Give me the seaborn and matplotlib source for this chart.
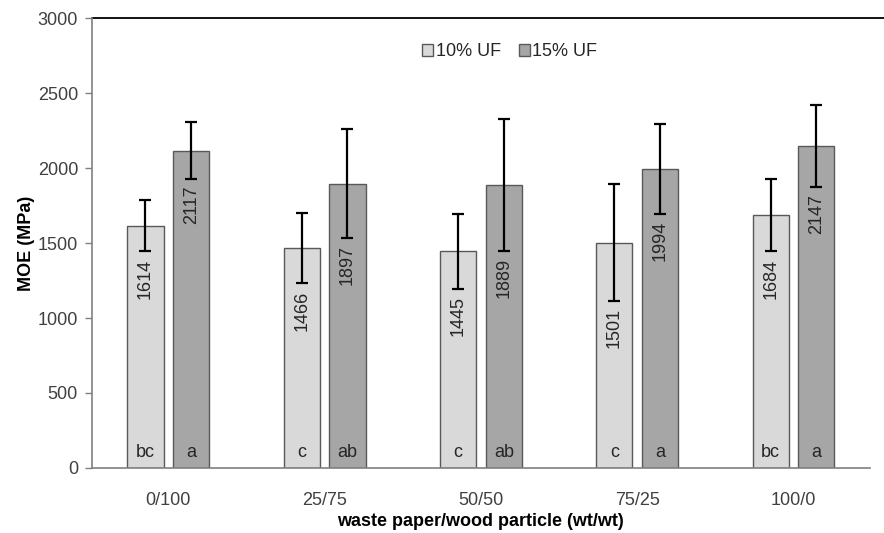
import matplotlib
matplotlib.use("Agg")
import matplotlib.pyplot as plt
import numpy as np
import pandas as pd
import seaborn as sns

# data
ratios = ["0/100", "25/75", "50/50", "75/25", "100/0"]
uf_levels = ["10% UF", "15% UF"]
moe_10 = [1614, 1466, 1445, 1501, 1684]
moe_15 = [2117, 1897, 1889, 1994, 2147]
sd_10 = [170, 235, 250, 390, 240]
sd_15 = [190, 365, 440, 300, 275]
letters_10 = ["bc", "c", "c", "c", "bc"]
letters_15 = ["a", "ab", "ab", "a", "a"]

sns.set_theme(style="white")
plt.rcParams["font.family"] = ["Liberation Sans", "DejaVu Sans"]

df = pd.DataFrame(
    {
        "ratio": ratios * 2,
        "UF": [uf_levels[0]] * len(ratios) + [uf_levels[1]] * len(ratios),
        "MOE": moe_10 + moe_15,
    }
)

fs = 13
fig = plt.figure(figsize=(8.84, 5.33), dpi=100)
ax = fig.add_axes([0.104, 0.122, 0.88, 0.844])

sns.barplot(
    data=df, x="ratio", y="MOE", hue="UF", order=ratios, hue_order=uf_levels,
    palette={"10% UF": "#d9d9d9", "15% UF": "#a6a6a6"},
    width=0.585, gap=0.207, errorbar=None, edgecolor="#595959", linewidth=1.0,
    saturation=1, ax=ax,
)

txt = "#262626"
for cont, means, sds, letters in zip(ax.containers, [moe_10, moe_15], [sd_10, sd_15], [letters_10, letters_15]):
    xs = [p.get_x() + p.get_width() / 2 for p in cont.patches]
    ax.errorbar(xs, means, yerr=sds, fmt="none", ecolor="black", elinewidth=1.6, capsize=4.5, capthick=1.6, zorder=5)
    for x, m, s, let in zip(xs, means, sds, letters):
        ax.annotate(str(m), (x, m - s), xytext=(0, -5), textcoords="offset points",
                    rotation=90, ha="center", va="top", fontsize=fs, color=txt)
        ax.text(x, 105, let, ha="center", va="center", fontsize=fs, color=txt)

ax.set_ylim(0, 3000)
ax.set_yticks(np.arange(0, 3001, 500))
ax.set_xlabel("waste paper/wood particle (wt/wt)", fontsize=fs, fontweight="bold", color="black", labelpad=3)
ax.set_ylabel("MOE (MPa)", fontsize=fs, fontweight="bold", color="black", labelpad=2)
ax.tick_params(axis="y", which="major", left=True, length=5, width=1, color="#808080", labelsize=fs, labelcolor="#404040", pad=5)
ax.tick_params(axis="x", bottom=False, labelsize=fs, labelcolor="#404040", pad=11)

for side in ["left", "bottom"]:
    ax.spines[side].set_color("#808080")
    ax.spines[side].set_linewidth(1.2)
ax.spines["right"].set_visible(False)
ax.spines["top"].set_visible(False)
ax.plot([0, 1.02], [1, 1], transform=ax.transAxes, color="black", linewidth=1.3, clip_on=False)

leg = ax.legend(
    loc="upper center", bbox_to_anchor=(0.537, 0.98), ncol=2, frameon=False,
    handlelength=0.6, handleheight=0.6, handletextpad=0.15, columnspacing=1.0, fontsize=fs,
)
for t in leg.get_texts():
    t.set_color(txt)

fig.savefig("out.png", dpi=100)
